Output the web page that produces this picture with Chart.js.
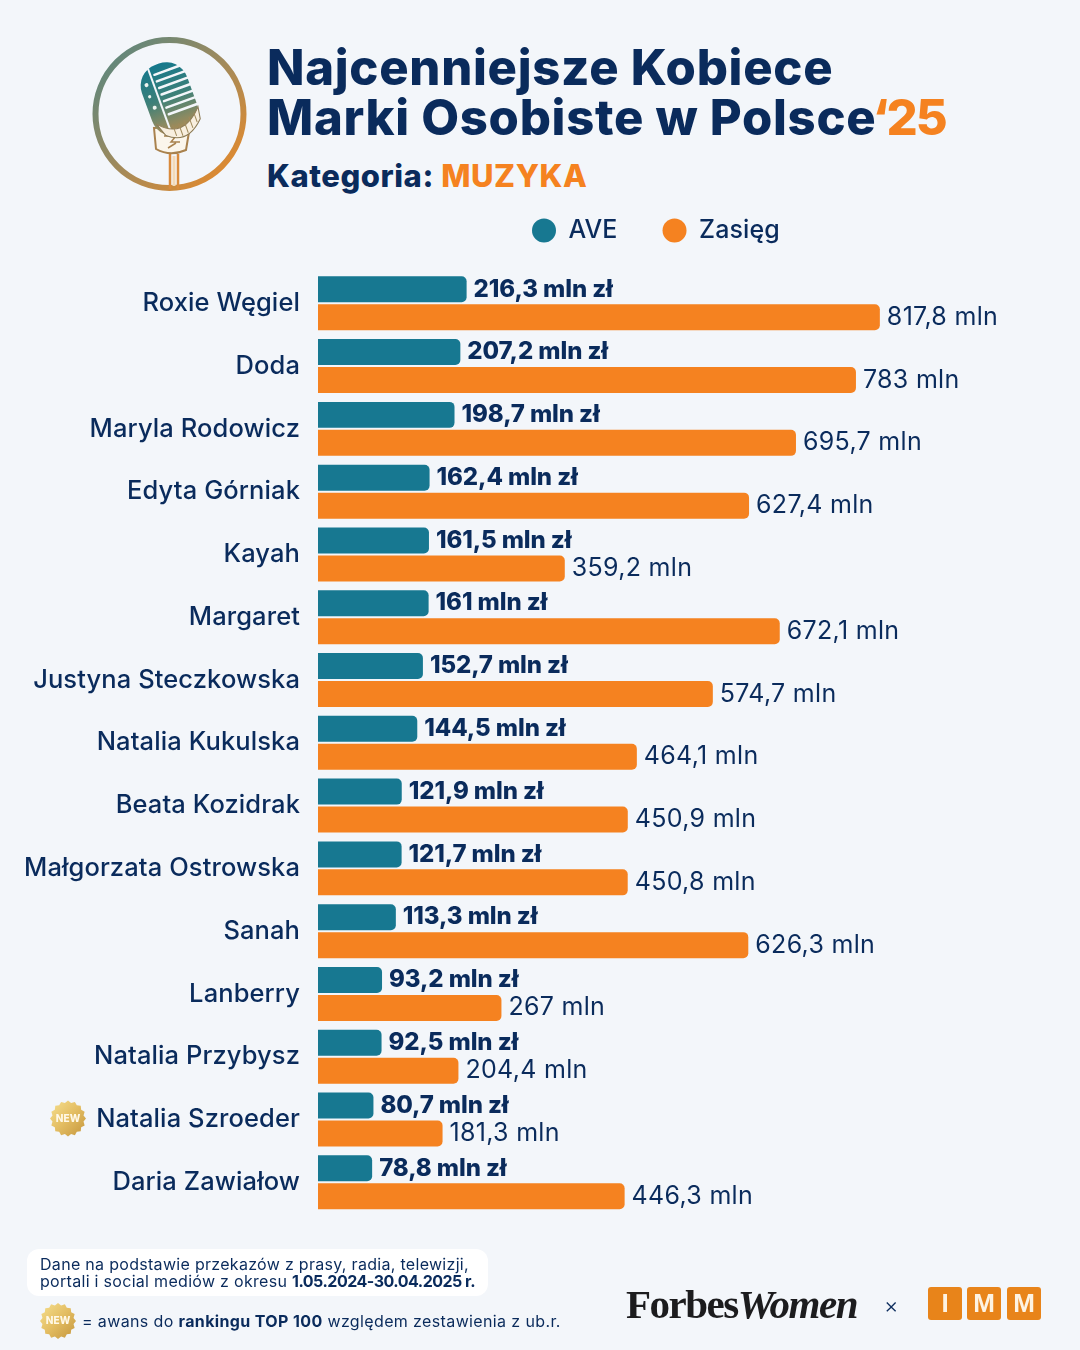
<!DOCTYPE html>
<html lang="pl">
<head>
<meta charset="utf-8">
<title>Najcenniejsze Kobiece Marki Osobiste w Polsce 2025 - Muzyka</title>
<script src="https://cdn.jsdelivr.net/npm/chart.js@4"></script>
<style>
  html, body { margin: 0; padding: 0; background: #f3f6fa; }
  #page { position: relative; width: 1080px; height: 1350px; overflow: hidden; background: #f3f6fa; font-family: Inter, sans-serif; color: #0a2b5c; }
  #page canvas { position: absolute; left: 0; top: 0; }
  .txt { position: absolute; white-space: nowrap; }
  .title { left: 267px; font-size: 49px; font-weight: 800; line-height: 50px; letter-spacing: 0.7px; }
  .title span { letter-spacing: -2px; margin-left: -4px; }
  .orange { color: #f58220; }
  .cat { left: 267px; top: 156px; font-size: 31px; line-height: 40px; font-weight: 800; letter-spacing: 0.55px; }
  #note { position: absolute; left: 27px; top: 1249px; width: 461px; height: 47px; background: #fff; border-radius: 12px; }
  .small { font-size: 16px; line-height: 18px; font-weight: 400; letter-spacing: 0.3px; }
  .small b.date { letter-spacing: -0.5px; }
  .forbes { left: 626px; top: 1282px; font-family: "Liberation Serif", serif; font-size: 41px; line-height: 44px; font-weight: 700; letter-spacing: -1.5px; color: #1c1c1e; }
  .forbes i { font-weight: 700; }
  .imm { position: absolute; top: 1287px; width: 34px; height: 33px; background: #e8841a; border-radius: 3px; color: #fdf3e3; font-family: "Liberation Sans", sans-serif; font-size: 26px; font-weight: 700; line-height: 33px; text-align: center; }
</style>
</head>
<body>
<div id="page">
  <svg style="position:absolute;left:0;top:0" width="300" height="220" viewBox="0 0 300 220">
    <defs>
      <linearGradient id="ring" x1="0" y1="0" x2="1" y2="1">
        <stop offset="0" stop-color="#4f8684"/><stop offset="0.5" stop-color="#a08a5c"/><stop offset="1" stop-color="#f08a24"/>
      </linearGradient>
      <linearGradient id="head" gradientUnits="userSpaceOnUse" x1="0" y1="62" x2="0" y2="140">
        <stop offset="0" stop-color="#14788c"/><stop offset="0.45" stop-color="#3e8078"/><stop offset="0.75" stop-color="#8a8a62"/><stop offset="1" stop-color="#c08a48"/>
      </linearGradient>
    </defs>
    <circle cx="169.5" cy="114" r="74" fill="none" stroke="url(#ring)" stroke-width="6"/>
    <!-- mikrofon -->
    <path d="M170 154 V189 M178 154 V189" stroke="#d98a3c" stroke-width="2.5"/>
    <path d="M174 156 V186" stroke="#f3d9b8" stroke-width="3"/>
    <path d="M154 128 L156 149 Q170 157 186 150 L190 126 Z" fill="#fbf6ec" stroke="#a9824e" stroke-width="2"/>
    <path d="M164 136 h12 l-5 6 h9 M168 148 l8 -5" fill="none" stroke="#a9824e" stroke-width="1.5"/>
    <g transform="rotate(-20 170 100)">
      <rect x="146" y="62" width="48" height="74" rx="22" fill="url(#head)"/>
      <path d="M160 63 V134" stroke="#f3f6fa" stroke-width="2"/>
      <g fill="#eef4ef">
        <circle cx="153" cy="78" r="2"/><circle cx="152" cy="90" r="1.6"/><circle cx="153" cy="102" r="2"/>
      </g>
      <g stroke="#f3f6fa" stroke-width="2.5" stroke-linecap="round">
        <path d="M164 71 H194 M164 78 H197 M164 85 H197 M164 92 H197 M164 99 H197 M164 106 H197 M164 113 H197"/>
      </g>
      <path d="M149 118 Q170 142 194 116 L192 128 Q172 148 154 132 Z" fill="#f8efdf" stroke="#8b7a55" stroke-width="1"/>
      <path d="M164 124 V136 M170 125 V138 M176 124 V137 M182 122 V134 M188 120 V130" stroke="#a08a5c" stroke-width="1"/>
    </g>
  </svg>
  <div class="txt title" style="top:43px">Najcenniejsze Kobiece</div>
  <div class="txt title" style="top:93px">Marki Osobiste w Polsce<span class="orange">‘25</span></div>
  <div class="txt cat">Kategoria: <span class="orange">MUZYKA</span></div>

  <div id="note"></div>
  <canvas id="chart_cv" width="1080" height="1350"></canvas>
  <div class="txt small" style="left:40px;top:1255px">Dane na podstawie przekazów z prasy, radia, telewizji,</div>
  <div class="txt small" style="left:40px;top:1272px">portali i social mediów z okresu <b class="date">1.05.2024-30.04.2025 r.</b></div>
  <div class="txt small" style="left:82px;top:1312px;letter-spacing:0.37px">= awans do <b>rankingu TOP 100</b> względem zestawienia z ub.r.</div>
  <div class="txt forbes">Forbes<i>Women</i></div>
  <div class="txt" style="left:884px;top:1293px;font-size:22px;line-height:24px;font-weight:300">×</div>
  <div class="imm" style="left:928px">I</div>
  <div class="imm" style="left:967px">M</div>
  <div class="imm" style="left:1007px">M</div>
</div>
<script>
// データ
const names = ['Roxie Węgiel', 'Doda', 'Maryla Rodowicz', 'Edyta Górniak', 'Kayah', 'Margaret', 'Justyna Steczkowska', 'Natalia Kukulska', 'Beata Kozidrak', 'Małgorzata Ostrowska', 'Sanah', 'Lanberry', 'Natalia Przybysz', 'Natalia Szroeder', 'Daria Zawiałow'];
const ave = [216.3, 207.2, 198.7, 162.4, 161.5, 161, 152.7, 144.5, 121.9, 121.7, 113.3, 93.2, 92.5, 80.7, 78.8];
const zasieg = [817.8, 783, 695.7, 627.4, 359.2, 672.1, 574.7, 464.1, 450.9, 450.8, 626.3, 267, 204.4, 181.3, 446.3];
const newNames = ['Natalia Szroeder'];

const navy = '#0a2b5c';
const teal = '#177891';
const orange = '#f58220';

Chart.defaults.font.family = 'Inter, sans-serif';

// odznaka NEW
function drawSeal(ctx, x, y, r) {
  const grad = ctx.createLinearGradient(x - r, y - r, x + r, y + r);
  grad.addColorStop(0, '#f6e08f');
  grad.addColorStop(0.5, '#e3bd62');
  grad.addColorStop(1, '#c4953c');
  ctx.save();
  ctx.beginPath();
  for (let i = 0; i < 32; i++) {
    const a = i * Math.PI / 16;
    const rr = i % 2 ? r * 0.88 : r;
    ctx.lineTo(x + Math.cos(a) * rr, y + Math.sin(a) * rr);
  }
  ctx.closePath();
  ctx.fillStyle = grad;
  ctx.fill();
  ctx.fillStyle = '#fff8e6';
  ctx.font = '800 10px Inter, sans-serif';
  ctx.textAlign = 'center';
  ctx.textBaseline = 'middle';
  ctx.fillText('NEW', x, y);
  ctx.restore();
}

// 値ラベル
const valueLabels = {
  id: 'valueLabels',
  afterLayout(chart) {
    // legenda nad wykresem, na prawo od osi
    chart.legend.left = 487;
    chart.legend.top -= 18.9;
  },
  beforeDraw(chart) {
    chart.ctx.letterSpacing = '0.1px';
  },
  afterDatasetsDraw(chart) {
    const ctx = chart.ctx;
    ctx.save();
    ctx.textBaseline = 'middle';
    ctx.textAlign = 'left';
    ctx.fillStyle = navy;
    chart.data.datasets.forEach((ds, d) => {
      chart.getDatasetMeta(d).data.forEach((bar, i) => {
        const txt = String(ds.data[i]).replace('.', ',');
        if (d === 0) {
          ctx.font = '800 24px Inter, sans-serif';
          ctx.letterSpacing = '-0.1px';
          ctx.fillText(txt + ' mln zł', bar.x + 7, bar.y);
        } else {
          ctx.font = '400 25px Inter, sans-serif';
          ctx.letterSpacing = '0.3px';
          ctx.fillText(txt + ' mln', bar.x + 7, bar.y);
        }
      });
    });
    ctx.restore();
    // 新規バッジ
    const yScale = chart.scales.y;
    newNames.forEach(n => drawSeal(ctx, 68, yScale.getPixelForValue(names.indexOf(n)) - 1, 18));
    drawSeal(ctx, 58, 1321, 18);
  }
};

const ctx = document.getElementById('chart_cv');
const chart_cv = new Chart(ctx, {
  type: 'bar',
  plugins: [valueLabels],
  data: {
    labels: names,
    datasets: [
      { label: 'AVE', data: ave, backgroundColor: teal },
      { label: 'Zasięg', data: zasieg, backgroundColor: orange }
    ]
  },
  options: {
    indexAxis: 'y',
    responsive: false,
    animation: false,
    layout: { padding: { top: 191.9, left: 0, right: 20, bottom: 136.3 } },
    datasets: {
      bar: {
        categoryPercentage: 0.891,
        barPercentage: 0.929,
        borderRadius: { topLeft: 0, bottomLeft: 0, topRight: 5, bottomRight: 5 },
        borderSkipped: false
      }
    },
    scales: {
      x: { display: false, min: 0, max: 1080 },
      y: {
        afterFit(scale) { scale.width = 318; },
        grid: { display: false, drawTicks: false },
        border: { display: false },
        ticks: { autoSkip: false, padding: 18, color: navy, font: { size: 25.5, weight: 500 } }
      }
    },
    plugins: {
      tooltip: { enabled: false },
      legend: {
        position: 'top',
        align: 'start',
        labels: {
          usePointStyle: true,
          pointStyle: 'circle',
          boxWidth: 17,
          boxHeight: 17,
          pointStyleWidth: 24,
          padding: 45,
          color: navy,
          font: { size: 25, weight: 500 }
        }
      }
    }
  }
});
</script>
</body>
</html>
